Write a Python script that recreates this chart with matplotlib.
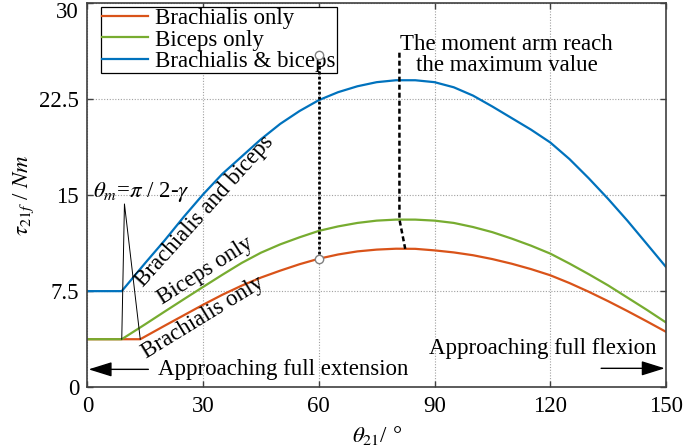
import matplotlib
matplotlib.use('Agg')
import matplotlib.pyplot as plt
from matplotlib.transforms import ScaledTranslation

plt.rcParams['font.family'] = ['Liberation Serif', 'DejaVu Serif']
plt.rcParams['mathtext.fontset'] = 'stix'

# joint angle samples and torque of each muscle group
theta_brachialis = [0, 13.7, 20, 25, 30, 35, 40, 45, 50, 55, 60, 65, 70, 75, 80, 85, 90,
                    95, 100, 105, 110, 115, 120, 125, 130, 135, 140, 145, 150]
tau_brachialis = [3.75, 3.75, 4.8, 5.62, 6.44, 7.22, 7.93, 8.56, 9.1, 9.6, 10.03, 10.36, 10.6,
                  10.74, 10.81, 10.8, 10.68, 10.52, 10.3, 10.0, 9.64, 9.22, 8.74, 8.13, 7.45,
                  6.72, 5.95, 5.15, 4.33]

theta_biceps = [0, 8.9, 15, 20, 25, 30, 35, 40, 45, 50, 55, 60, 65, 70, 75, 80, 85, 90,
                95, 100, 105, 110, 115, 120, 125, 130, 135, 140, 145, 150]
tau_biceps = [3.75, 3.75, 4.92, 5.9, 6.87, 7.83, 8.78, 9.7, 10.5, 11.15, 11.7, 12.2, 12.55,
              12.82, 13.0, 13.08, 13.08, 13.0, 12.82, 12.5, 12.1, 11.6, 11.05, 10.43, 9.65,
              8.82, 7.95, 7.0, 6.05, 5.06]

theta_both = theta_biceps
tau_both = [7.5, 7.5, 9.7, 11.45, 13.3, 15.05, 16.65, 18.0, 19.35, 20.55, 21.55, 22.4, 23.02,
            23.48, 23.8, 23.95, 23.95, 23.8, 23.4, 22.75, 21.9, 21.0, 20.1, 19.1, 17.8,
            16.3, 14.7, 13.0, 11.2, 9.39]

c_red = '#D95319'
c_green = '#77AC30'
c_blue = '#0072BD'
fs = 16.5

fig = plt.figure(figsize=(6.83, 4.48), dpi=100)
ax = fig.add_axes([0.128, 0.1355, 0.847, 0.8585])

ax.plot(theta_brachialis, tau_brachialis, color=c_red, lw=1.6, label='Brachialis only')
ax.plot(theta_biceps, tau_biceps, color=c_green, lw=1.6, label='Biceps only')
ax.plot(theta_both, tau_both, color=c_blue, lw=1.6, label='Brachialis & biceps')

ax.set_xlim(0, 150)
ax.set_ylim(0, 30)
ax.set_xticks([0, 30, 60, 90, 120, 150])
ax.set_yticks([0, 7.5, 15, 22.5, 30])
ax.set_yticklabels(['0', '7.5', '15', '22.5', '30'])
ax.tick_params(direction='in', length=4, width=1, top=True, right=True,
               labelsize=fs, pad=6, colors='#404040', labelcolor='k')
for s in ax.spines.values():
    s.set_color('#404040')
    s.set_linewidth(1.2)
ax.grid(True, color='#a0a0a0', lw=0.8, linestyle=(0, (1, 1.5)))

# keep the top y label inside the canvas
top_lbl = ax.get_yticklabels()[-1]
top_lbl.set_transform(top_lbl.get_transform() + ScaledTranslation(0, -5 / 72, fig.dpi_scale_trans))

ax.set_xlabel(r'$\theta_{21}$/ °', fontsize=fs, labelpad=5)
ax.set_ylabel(r'$\tau_{21f}$ / $Nm$', fontsize=fs, labelpad=2)

leg = ax.legend(loc='upper left', fontsize=fs, frameon=True, fancybox=False,
                edgecolor='k', framealpha=1, borderpad=0.05, labelspacing=0.0,
                handlelength=2.0, handletextpad=0.3, borderaxespad=0.2,
                bbox_to_anchor=(0.016, 1.0))
leg.get_frame().set_linewidth(0.9)

# labels along the rising branches
ax.text(30.3, 13.7, 'Brachialis and biceps', rotation=48, fontsize=fs,
        ha='center', va='center', rotation_mode='anchor')
ax.text(30.5, 9.05, 'Biceps only', rotation=32.5, fontsize=fs,
        ha='center', va='center', rotation_mode='anchor')
ax.text(29.9, 5.4, 'Brachialis only', rotation=31.5, fontsize=fs,
        ha='center', va='center', rotation_mode='anchor')

# theta_m marker lines
ax.plot([8.9, 9.6, 13.7], [3.75, 14.3, 3.75], color='k', lw=0.7)
ax.text(1.5, 15.2, r'$\theta_m$=$\pi$ / 2-$\gamma$', fontsize=fs, ha='left', va='center')

# vertical guide at 60 deg, drawn over the legend box
ax.plot([60, 60], [10.03, 25.9], color='k', lw=2, linestyle=(0, (1, 0.8)), zorder=6)
ax.plot([60, 60], [10.03, 25.9], 'o', ms=6, mfc='white', mec='#808080', mew=1, zorder=7)

# maximum moment arm pointer
ax.plot([80.9, 80.9, 82.4], [26.1, 13.1, 10.8], color='k', lw=1.8,
        linestyle=(0, (2, 1.2)))
ax.text(108.7, 25.9, 'The moment arm reach\nthe maximum value', fontsize=fs,
        ha='center', va='center', multialignment='center', linespacing=1.0)

arrow = dict(arrowstyle='-|>,head_length=0.8,head_width=0.25', color='k', lw=1,
             mutation_scale=18, shrinkA=0, shrinkB=0)
ax.annotate('', xy=(0.3, 1.4), xytext=(15.8, 1.4), arrowprops=arrow)
ax.text(18.3, 1.4, 'Approaching full extension', fontsize=fs, ha='left', va='center')
ax.annotate('', xy=(149.7, 1.48), xytext=(133.2, 1.48), arrowprops=arrow)
ax.text(147.5, 3.03, 'Approaching full flexion', fontsize=fs, ha='right', va='center')

fig.savefig('out.png', dpi=100)
